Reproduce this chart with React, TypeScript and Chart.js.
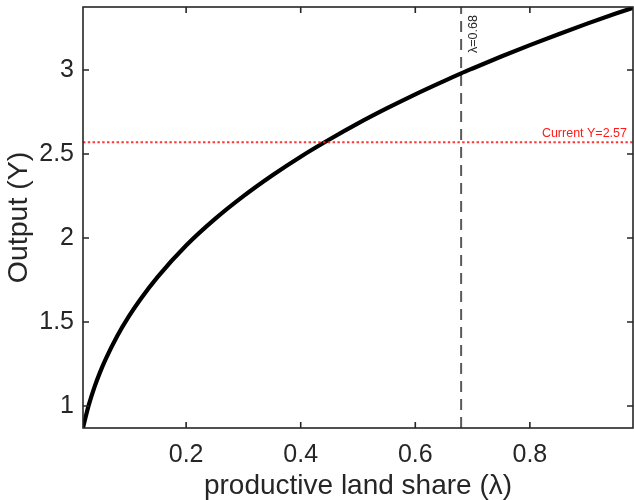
import React, { useEffect, useRef } from "react";
import { Chart, registerables } from "chart.js";

Chart.register(...registerables);

const lambdaValues = [0.02, 0.025, 0.03, 0.04, 0.05, 0.06, 0.08, 0.1, 0.12, 0.15, 0.2, 0.25, 0.3, 0.35, 0.4, 0.45, 0.5, 0.55, 0.6, 0.65, 0.68, 0.7, 0.75, 0.8, 0.85, 0.9, 0.95, 0.98];
const outputValues = [0.87, 0.94, 1.005, 1.112, 1.203, 1.282, 1.418, 1.533, 1.634, 1.767, 1.955, 2.112, 2.249, 2.372, 2.484, 2.586, 2.682, 2.771, 2.855, 2.934, 2.98, 3.009, 3.08, 3.148, 3.213, 3.276, 3.336, 3.37];
const xTicks = [0.2, 0.4, 0.6, 0.8];
const yTicks = [1, 1.5, 2, 2.5, 3];
const xRange = [0.02, 0.98];
const yRange = [0.869, 3.375];
const lambdaStar = 0.68;
const currentY = 2.57;
const lambdaLabel = "λ=0.68";
const currentLabel = "Current Y=2.57";
const xTitle = "productive land share (λ)";
const yTitle = "Output (Y)";

const FONT = "'Liberation Sans', Arial, Helvetica, sans-serif";
const AXIS_COLOR = "#262626";

const boxPlugin = {
  id: "matlabBox",
  afterDraw(chart: any) {
    const { ctx, chartArea, scales } = chart;
    const { left, right, top, bottom } = chartArea;
    ctx.save();
    ctx.strokeStyle = AXIS_COLOR;
    ctx.lineWidth = 1.6;
    ctx.strokeRect(left, top, right - left, bottom - top);
    const tl = 6;
    ctx.beginPath();
    for (const v of xTicks) {
      const px = scales.x.getPixelForValue(v);
      ctx.moveTo(px, bottom);
      ctx.lineTo(px, bottom - tl);
      ctx.moveTo(px, top);
      ctx.lineTo(px, top + tl);
    }
    for (const v of yTicks) {
      const py = scales.y.getPixelForValue(v);
      ctx.moveTo(left, py);
      ctx.lineTo(left + tl, py);
      ctx.moveTo(right, py);
      ctx.lineTo(right - tl, py);
    }
    ctx.stroke();

    // annotations
    const lx = scales.x.getPixelForValue(lambdaStar);
    ctx.fillStyle = AXIS_COLOR;
    ctx.font = `12.5px ${FONT}`;
    ctx.translate(lx + 12, top + 46);
    ctx.rotate(-Math.PI / 2);
    ctx.textAlign = "left";
    ctx.textBaseline = "middle";
    ctx.fillText(lambdaLabel, 0, 0);
    ctx.restore();

    ctx.save();
    const ry = scales.y.getPixelForValue(currentY);
    ctx.fillStyle = "#ff1a1a";
    ctx.font = `12.5px ${FONT}`;
    ctx.textAlign = "right";
    ctx.textBaseline = "alphabetic";
    ctx.fillText(currentLabel, right - 6, ry - 5.5);
    ctx.restore();
  },
};

export default function App() {
  const ref = useRef<HTMLCanvasElement>(null);
  useEffect(() => {
    if (!ref.current) return;
    const curve = lambdaValues.map((x, i) => ({ x, y: outputValues[i] }));
    const chart = new Chart(ref.current, {
      type: "line",
      data: {
        datasets: [
          {
            data: [
              { x: xRange[0], y: currentY },
              { x: xRange[1], y: currentY },
            ],
            borderColor: "rgba(255,30,30,0.9)",
            borderWidth: 2,
            borderDash: [2.4, 2.4],
            pointRadius: 0,
          },
          {
            data: curve,
            borderColor: "#000000",
            borderWidth: 4.2,
            pointRadius: 0,
            cubicInterpolationMode: "monotone",
          },
          {
            data: [
              { x: lambdaStar, y: yRange[0] },
              { x: lambdaStar, y: yRange[1] },
            ],
            borderColor: "#5a5a5a",
            borderWidth: 2,
            borderDash: [11, 7],
            pointRadius: 0,
          },
        ],
      },
      options: {
        animation: false,
        responsive: false,
        layout: { padding: { left: 0, top: 7, right: 1, bottom: 0 } },
        plugins: { legend: { display: false }, tooltip: { enabled: false } },
        scales: {
          x: {
            type: "linear",
            min: xRange[0],
            max: xRange[1],
            grid: { display: false, drawTicks: false },
            border: { display: false },
            afterBuildTicks: (s: any) => {
              s.ticks = xTicks.map((v) => ({ value: v }));
            },
            afterFit: (s: any) => {
              s.height = 72;
              s.paddingLeft = 0;
              s.paddingRight = 0;
            },
            ticks: {
              color: AXIS_COLOR,
              font: { family: FONT, size: 25 },
              padding: 12,
              maxRotation: 0,
              callback: (v: any) => String(v),
            },
            title: {
              display: true,
              text: xTitle,
              color: AXIS_COLOR,
              font: { family: FONT, size: 28 },
              padding: { top: 0, bottom: -3 },
            },
          },
          y: {
            type: "linear",
            min: yRange[0],
            max: yRange[1],
            grid: { display: false, drawTicks: false },
            border: { display: false },
            afterBuildTicks: (s: any) => {
              s.ticks = yTicks.map((v) => ({ value: v }));
            },
            afterFit: (s: any) => {
              s.width = 83;
              s.paddingTop = 0;
              s.paddingBottom = 0;
            },
            ticks: {
              color: AXIS_COLOR,
              font: { family: FONT, size: 25 },
              padding: 9,
              callback: (v: any) => String(v),
            },
            title: {
              display: true,
              text: yTitle,
              color: AXIS_COLOR,
              font: { family: FONT, size: 28.5 },
              padding: { top: 2.5, bottom: 0 },
            },
          },
        },
      },
      plugins: [boxPlugin],
    });
    return () => chart.destroy();
  }, []);
  return (
    <div style={{ position: "fixed", left: 0, top: 0, width: 634, height: 500, background: "#fff" }}>
      <canvas ref={ref} width={634} height={500} style={{ display: "block" }} />
    </div>
  );
}
